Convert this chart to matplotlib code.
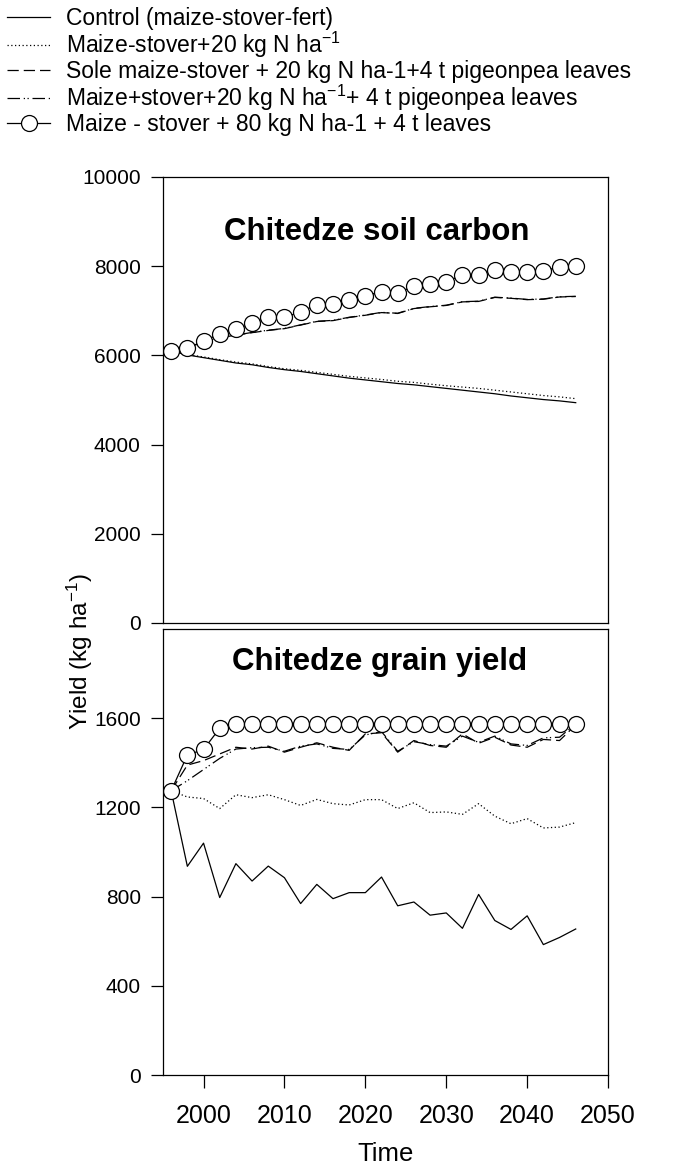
import numpy as np
import matplotlib
matplotlib.use('Agg')
import matplotlib.pyplot as plt

plt.rcParams['font.family'] = ['Liberation Sans', 'DejaVu Sans']
plt.rcParams['mathtext.default'] = 'regular'

# годы моделирования
years = list(range(1996, 2047, 2))

labels = [
    'Control (maize-stover-fert)',
    'Maize-stover+20 kg N ha$^{-1}$',
    'Sole maize-stover + 20 kg N ha-1+4 t pigeonpea leaves',
    'Maize+stover+20 kg N ha$^{-1}$+ 4 t pigeonpea leaves',
    'Maize - stover + 80 kg N ha-1 + 4 t leaves',
]

# почвенный углерод
carbon_control = [6100, 6010, 5950, 5890, 5830, 5790, 5730, 5680, 5640, 5590, 5540, 5490, 5450,
                  5410, 5370, 5340, 5300, 5260, 5220, 5180, 5140, 5090, 5050, 5010, 4980, 4940]
carbon_n20 = [6100, 6020, 5965, 5905, 5850, 5810, 5750, 5700, 5665, 5620, 5575, 5530, 5495,
              5460, 5420, 5395, 5355, 5320, 5290, 5260, 5220, 5180, 5140, 5100, 5070, 5030]
carbon_sole = [6100, 6180, 6300, 6400, 6450, 6510, 6560, 6600, 6680, 6760, 6780, 6850, 6900,
               6960, 6940, 7050, 7090, 7120, 7200, 7210, 7300, 7280, 7250, 7260, 7310, 7320]
carbon_pp = [6100, 6175, 6295, 6395, 6455, 6515, 6565, 6605, 6685, 6765, 6785, 6855, 6905,
             6965, 6945, 7055, 7095, 7125, 7205, 7215, 7305, 7285, 7255, 7265, 7315, 7325]
carbon_n80 = [6105, 6160, 6320, 6480, 6585, 6720, 6865, 6850, 6980, 7130, 7150, 7240, 7340,
              7430, 7390, 7555, 7600, 7650, 7800, 7800, 7915, 7880, 7860, 7890, 7990, 8005]

# урожай зерна
grain_control = [1275, 936, 1040, 796, 948, 870, 937, 885, 769, 855, 791, 818, 818,
                 888, 759, 776, 717, 727, 658, 810, 693, 653, 714, 585, 617, 655]
grain_n20 = [1275, 1247, 1240, 1195, 1257, 1244, 1257, 1235, 1209, 1236, 1217, 1211, 1235,
             1235, 1195, 1221, 1177, 1180, 1169, 1217, 1161, 1127, 1150, 1108, 1112, 1132]
grain_sole = [1275, 1390, 1410, 1440, 1470, 1462, 1475, 1448, 1470, 1490, 1470, 1456, 1530,
              1535, 1448, 1500, 1478, 1470, 1530, 1488, 1515, 1480, 1470, 1505, 1500, 1570]
grain_pp = [1275, 1320, 1370, 1420, 1462, 1468, 1470, 1452, 1475, 1485, 1465, 1460, 1525,
            1540, 1452, 1495, 1482, 1475, 1520, 1492, 1520, 1485, 1478, 1512, 1515, 1575]
grain_n80 = [1275, 1435, 1460, 1555, 1575, 1575, 1575, 1575, 1575, 1575, 1575, 1575, 1575,
             1575, 1575, 1575, 1575, 1575, 1575, 1575, 1575, 1575, 1575, 1575, 1575, 1575]

styles = [
    dict(color='black', lw=0.9, ls='-'),
    dict(color='black', lw=0.9, ls=(0, (1, 2))),
    dict(color='black', lw=0.9, ls=(0, (9, 4))),
    dict(color='black', lw=0.9, ls=(0, (10, 3, 1, 2, 1, 3))),
    dict(color='black', lw=0.9, ls='-', marker='o', ms=11.5, mfc='white', mec='black', mew=0.9),
]

fig = plt.figure(figsize=(6.91, 11.66), dpi=100)
ax1 = fig.add_axes([0.236, 0.4657, 0.644, 0.3825])
ax2 = fig.add_axes([0.236, 0.078, 0.644, 0.3825])

handles = []
for data, st, lab in zip([carbon_control, carbon_n20, carbon_sole, carbon_pp, carbon_n80], styles, labels):
    h, = ax1.plot(years, data, label=lab, **st)
    handles.append(h)
for data, st in zip([grain_control, grain_n20, grain_sole, grain_pp, grain_n80], styles):
    ax2.plot(years, data, **st)

ax1.set_xlim(1995, 2050)
ax2.set_xlim(1995, 2050)
ax1.set_ylim(0, 10000)
ax2.set_ylim(0, 2000)
ax1.set_yticks(range(0, 10001, 2000))
ax2.set_yticks(range(0, 1601, 400))
ax2.set_xticks(range(2000, 2051, 10))
ax1.set_xticks([])

for ax in (ax1, ax2):
    for sp in ax.spines.values():
        sp.set_linewidth(0.9)
    ax.tick_params(direction='out', length=9, width=0.9)
    ax.tick_params(axis='y', labelsize=15, pad=7)
ax2.tick_params(axis='x', labelsize=18, pad=12)

ax1.text(0.48, 0.877, 'Chitedze soil carbon', transform=ax1.transAxes,
         ha='center', va='center', fontsize=22.5, fontweight='bold')
ax2.text(0.487, 0.926, 'Chitedze grain yield', transform=ax2.transAxes,
         ha='center', va='center', fontsize=22.5, fontweight='bold')

fig.text(0.116, 0.441, 'Yield (kg ha$^{-1}$)', rotation=90, ha='center', va='center', fontsize=17.5)
ax2.set_xlabel('Time', fontsize=18.5, labelpad=10)

fig.legend(handles=handles, loc='upper left', bbox_to_anchor=(0.0, 1.0), frameon=False,
           fontsize=16.5, handlelength=1.9, handletextpad=0.7, labelspacing=0.0,
           borderaxespad=0.2, borderpad=0.1)

fig.savefig('out.png', dpi=100)
